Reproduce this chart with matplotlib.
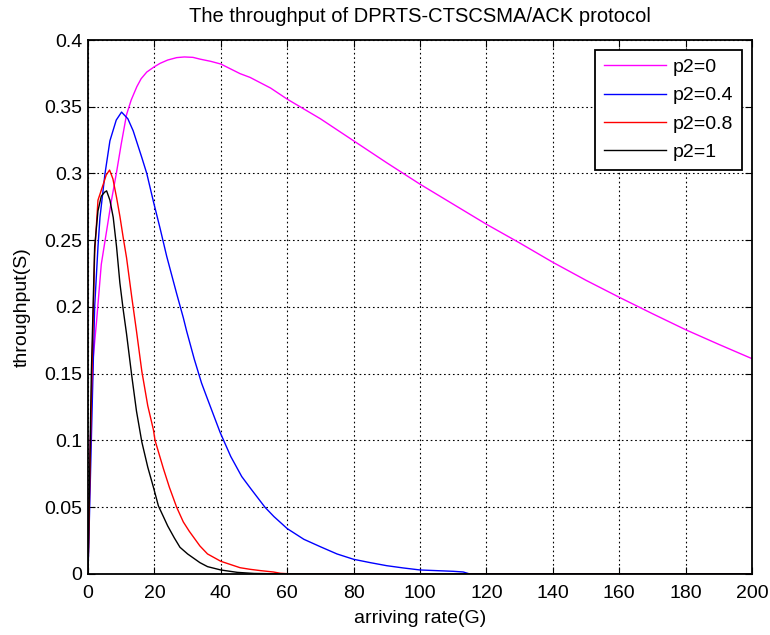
import numpy as np
import matplotlib
matplotlib.use("Agg")
from matplotlib import pyplot as plt

plt.rcParams['font.family'] = ['Liberation Sans', 'DejaVu Sans']

# values (G = arriving rate, S = throughput)
g_p0 = [0, 0.7, 1.5, 2.6, 4, 5.6, 7, 8.6, 10, 11.6, 13, 14.7, 16, 17.7, 20, 21.7, 24, 26.7,
        29, 31.6, 33.7, 37, 40, 45.8, 48.8, 55, 60, 70, 80, 90, 100, 110, 120, 130, 140,
        150, 160, 170, 180, 190, 200]
s_p0 = [0, 0.1, 0.16, 0.19, 0.232, 0.257, 0.279, 0.301, 0.322, 0.344, 0.355, 0.365, 0.371,
        0.376, 0.380, 0.3825, 0.385, 0.3868, 0.3873, 0.387, 0.3857, 0.384, 0.382, 0.3748,
        0.372, 0.364, 0.3557, 0.341, 0.3245, 0.308, 0.292, 0.277, 0.262, 0.248, 0.2335,
        0.22, 0.2073, 0.195, 0.183, 0.172, 0.1613]

g_p04 = [0, 1, 2, 3, 3.6, 5.1, 6.6, 8.5, 10.1, 12, 13.6, 16.2, 17.7, 19.7, 21.7, 23.7, 26.7,
         28.7, 29.7, 32, 34.2, 35.7, 39.8, 43, 46.3, 49, 53.3, 56, 60, 65, 70, 75, 80, 85,
         90, 95, 100, 105, 110, 113, 115, 200]
s_p04 = [0, 0.1, 0.2, 0.245, 0.267, 0.2996, 0.3245, 0.34, 0.346, 0.341, 0.332, 0.312, 0.3,
         0.279, 0.259, 0.238, 0.21, 0.192, 0.182, 0.161, 0.143, 0.133, 0.106, 0.088, 0.073,
         0.064, 0.05, 0.043, 0.034, 0.026, 0.0204, 0.015, 0.011, 0.0085, 0.0062, 0.0045,
         0.003, 0.0025, 0.002, 0.0015, 0.0, 0.0]

g_p08 = [0, 1, 2, 3, 4.6, 5.5, 6.5, 7.5, 8.6, 9.6, 10.6, 11.6, 13.2, 14.6, 16.2, 18,
         19.7, 20.2, 22.7, 24.5, 26.7, 28.7, 30.5, 33.7, 36, 40, 45.8, 48.8, 52, 55.8, 58,
         62, 200]
s_p08 = [0, 0.13, 0.24, 0.28, 0.292, 0.299, 0.3026, 0.296, 0.282, 0.268, 0.252, 0.237,
         0.207, 0.182, 0.152, 0.126, 0.108, 0.1, 0.079, 0.065, 0.05, 0.039, 0.032,
         0.021, 0.015, 0.0095, 0.0047, 0.0035, 0.0025, 0.0015, 0.0005, 0, 0]

g_p1 = [0, 1, 2, 3, 4, 5, 5.6, 6.6, 7.6, 8.6, 9.6, 10.6, 11.6, 13.2, 14.6, 16.2, 18, 19.7,
        21.2, 22.7, 24, 26, 27.7, 30, 33.7, 36, 40, 45, 50, 60, 200]
s_p1 = [0, 0.15, 0.245, 0.272, 0.283, 0.286, 0.287, 0.28, 0.267, 0.245, 0.218, 0.198,
        0.18, 0.148, 0.122, 0.099, 0.08, 0.065, 0.051, 0.043, 0.036, 0.027, 0.02, 0.015,
        0.0085, 0.0055, 0.003, 0.0012, 0.0004, 0, 0]

fig = plt.figure(figsize=(7.7, 6.35), dpi=100)
ax = fig.add_axes([0.1143, 0.0961, 0.8623, 0.8409])

ax.plot(g_p0, s_p0, color='#ff00ff', lw=1.0, label='p2=0')
ax.plot(g_p04, s_p04, color='#0000ff', lw=1.0, label='p2=0.4')
ax.plot(g_p08, s_p08, color='#ff0000', lw=1.0, label='p2=0.8')
ax.plot(g_p1, s_p1, color='black', lw=1.0, label='p2=1')

ax.set_xlim(0, 200)
ax.set_ylim(0, 0.4)
ax.set_xticks(np.arange(0, 201, 20))
ax.set_yticks(np.arange(0, 0.401, 0.05))
ax.set_yticklabels(['0', '0.05', '0.1', '0.15', '0.2', '0.25', '0.3', '0.35', '0.4'])
ax.grid(True, color='black', linestyle=(0, (1.5, 2.5)), linewidth=0.8)
ax.tick_params(direction='in', top=True, right=True, length=5, labelsize=14)
ax.tick_params(axis='x', pad=8)
ax.tick_params(axis='y', pad=4)
for sp in ax.spines.values():
    sp.set_linewidth(1.3)

ax.set_title("The throughput of DPRTS-CTSCSMA/ACK protocol", fontsize=14.5, pad=13)
ax.set_xlabel("arriving rate(G)", fontsize=14, labelpad=6)
ax.set_ylabel("throughput(S)", fontsize=14, labelpad=10)

leg = ax.legend(loc='upper right', fontsize=14, fancybox=False, framealpha=1,
                edgecolor='black', borderaxespad=0.5, handlelength=3.2,
                handletextpad=0.35, labelspacing=0.55, borderpad=0.45)
leg.get_frame().set_linewidth(1.3)

fig.savefig("out.png", dpi=100)
